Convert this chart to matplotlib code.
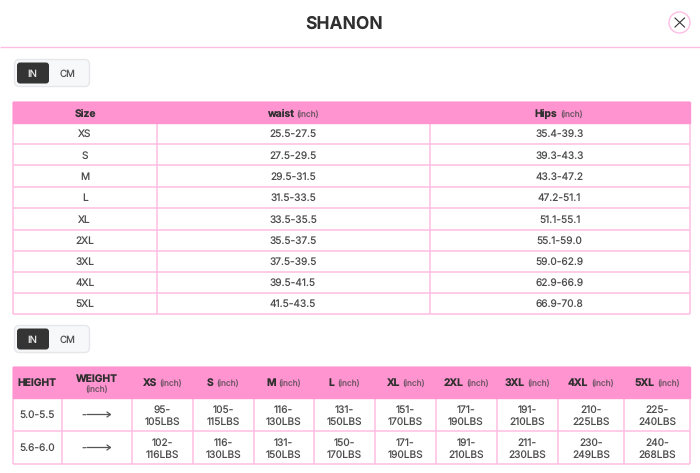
import matplotlib
matplotlib.use("Agg")
import matplotlib.pyplot as plt
from matplotlib.patches import FancyBboxPatch, Rectangle, Circle

plt.rcParams['font.family'] = ['Inter', 'DejaVu Sans']
plt.rcParams['text.hinting'] = 'no_hinting'
plt.rcParams['text.hinting_factor'] = 1

# ============ data ============
title = "SHANON"
unit = "(inch)"
unit_buttons = ["IN", "CM"]

sizes = ["XS", "S", "M", "L", "XL", "2XL", "3XL", "4XL", "5XL"]
waist = ["25.5-27.5", "27.5-29.5", "29.5-31.5", "31.5-33.5", "33.5-35.5",
         "35.5-37.5", "37.5-39.5", "39.5-41.5", "41.5-43.5"]
hips = ["35.4-39.3", "39.3-43.3", "43.3-47.2", "47.2-51.1", "51.1-55.1",
        "55.1-59.0", "59.0-62.9", "62.9-66.9", "66.9-70.8"]

heights = ["5.0-5.5", "5.6-6.0"]
weights_row1 = ["95-\n105LBS", "105-\n115LBS", "116-\n130LBS", "131-\n150LBS", "151-\n170LBS",
                "171-\n190LBS", "191-\n210LBS", "210-\n225LBS", "225-\n240LBS"]
weights_row2 = ["102-\n116LBS", "116-\n130LBS", "131-\n150LBS", "150-\n170LBS", "171-\n190LBS",
                "191-\n210LBS", "211-\n230LBS", "230-\n249LBS", "240-\n268LBS"]

# ============ styles ============
PINK = "#ff94d0"
LINE = "#ffbde4"
DARK = "#2f2f2f"
BODY = "#4d4d4d"
GRAY = "#6e5566"
BOLD_SIZE = 7.4
BODY_SIZE = 7.3

# ============ layout, in pixels ============
t1_x = [13, 156.5, 429.5, 690]
t1_y = [102, 123, 144, 165.5, 187, 208, 229.5, 250.5, 272, 293, 314]
t2_x = [13, 61.5, 131.5, 192.5, 253.5, 314, 375, 435.5, 496.5, 558, 624, 690]
t2_y = [367, 398, 431, 464]

fig = plt.figure(figsize=(7, 4.73), dpi=100)
ax = fig.add_axes([0, 0, 1, 1])
ax.set_xlim(0, 700)
ax.set_ylim(473, 0)
ax.axis("off")


def header(x, y, bold):
    # bold label with small unit next to it, centered as one
    r = fig.canvas.get_renderer()
    a = ax.text(x, y, bold, fontsize=BOLD_SIZE, fontweight="bold", color=DARK, va="baseline", ha="left", zorder=4)
    b = ax.text(x, y, unit, fontsize=6, color=GRAY, va="baseline", ha="left", zorder=4)
    wa = a.get_window_extent(r).width
    wb = b.get_window_extent(r).width
    left = x - (wa + 3 + wb) / 2
    a.set_x(left)
    b.set_x(left + wa + 3)


def toggle(y):
    ax.add_patch(FancyBboxPatch((14.5, y), 75, 27, boxstyle="round,pad=0,rounding_size=5",
                                fc="#f7f8fa", ec="#e6e7ea", lw=1))
    ax.add_patch(FancyBboxPatch((17, y + 3), 32, 21, boxstyle="round,pad=0,rounding_size=3",
                                fc="#343434", ec="none"))
    ax.text(32.5, y + 17.5, unit_buttons[0], fontsize=7, color="#e8e8e8", ha="center", va="baseline")
    ax.text(68, y + 17.5, unit_buttons[1], fontsize=7, color="#555555", ha="center", va="baseline")


def grid(xs, ys, lw=1.1):
    ax.vlines(xs, ys[0], ys[-1], color=LINE, lw=lw)
    ax.hlines(ys, xs[0], xs[-1], color=LINE, lw=lw)


# ============ title bar ============
ax.text(344, 28.5, title, fontsize=12.6, fontweight="bold", color=DARK, ha="center", va="baseline")
ax.hlines(47.5, 0, 700, color=LINE, lw=1)
ax.add_patch(Circle((679.5, 22.5), 10.5, fc="white", ec=LINE, lw=1))
ax.plot([675, 684.5], [18, 27], color="#333333", lw=0.8)
ax.plot([675, 684.5], [27, 18], color="#333333", lw=0.8)

# ============ first table ============
toggle(59.5)
grid(t1_x, t1_y)
ax.add_patch(Rectangle((t1_x[0], t1_y[0]), t1_x[-1] - t1_x[0], t1_y[1] - t1_y[0], fc=PINK, ec=PINK, lw=1, zorder=3))
ax.text(85, 116.5, "Size", fontsize=BOLD_SIZE, fontweight="bold", color=DARK, ha="center", va="baseline", zorder=4)
header(293, 116.5, "waist")
header(559, 116.5, "Hips")

for i in range(len(sizes)):
    yb = (t1_y[i + 1] + t1_y[i + 2]) / 2 + 3.8
    ax.text((t1_x[0] + t1_x[1]) / 2, yb, sizes[i], fontsize=BODY_SIZE, color=BODY, ha="center", va="baseline")
    ax.text((t1_x[1] + t1_x[2]) / 2, yb, waist[i], fontsize=BODY_SIZE, color=BODY, ha="center", va="baseline")
    ax.text((t1_x[2] + t1_x[3]) / 2, yb, hips[i], fontsize=BODY_SIZE, color=BODY, ha="center", va="baseline")

# ============ second table ============
toggle(325.5)
grid(t2_x, t2_y)
ax.add_patch(Rectangle((t2_x[0], t2_y[0]), t2_x[-1] - t2_x[0], t2_y[1] - t2_y[0], fc=PINK, ec=PINK, lw=1, zorder=3))
ax.text(37, 386, "HEIGHT", fontsize=BOLD_SIZE, fontweight="bold", color=DARK, ha="center", va="baseline", zorder=4)
ax.text(96.5, 381.5, "WEIGHT", fontsize=BOLD_SIZE, fontweight="bold", color=DARK, ha="center", va="baseline", zorder=4)
ax.text(96.5, 391.5, unit, fontsize=6, color=GRAY, ha="center", va="baseline", zorder=4)
for j, s in enumerate(sizes):
    header((t2_x[j + 2] + t2_x[j + 3]) / 2, 386, s)

for i, (h, row) in enumerate(zip(heights, [weights_row1, weights_row2])):
    yc = (t2_y[i + 1] + t2_y[i + 2]) / 2
    ax.text(37, yc + 3.8, h, fontsize=BODY_SIZE, color=BODY, ha="center", va="baseline")
    ax.text(81.5, yc + 3.8, "-", fontsize=BODY_SIZE, color=BODY, ha="left", va="baseline")
    ax.annotate("", xy=(111.5, yc), xytext=(87, yc),
                arrowprops=dict(arrowstyle="->,head_length=0.25,head_width=0.18", color="#555555", lw=0.9,
                                shrinkA=0, shrinkB=0))
    for j, w in enumerate(row):
        top, bottom = w.split("\n")
        x = (t2_x[j + 2] + t2_x[j + 3]) / 2
        ax.text(x, yc - 2, top, fontsize=BODY_SIZE, color=BODY, ha="center", va="baseline")
        ax.text(x, yc + 10, bottom, fontsize=BODY_SIZE, color=BODY, ha="center", va="baseline")

fig.savefig("out.png", dpi=100)
